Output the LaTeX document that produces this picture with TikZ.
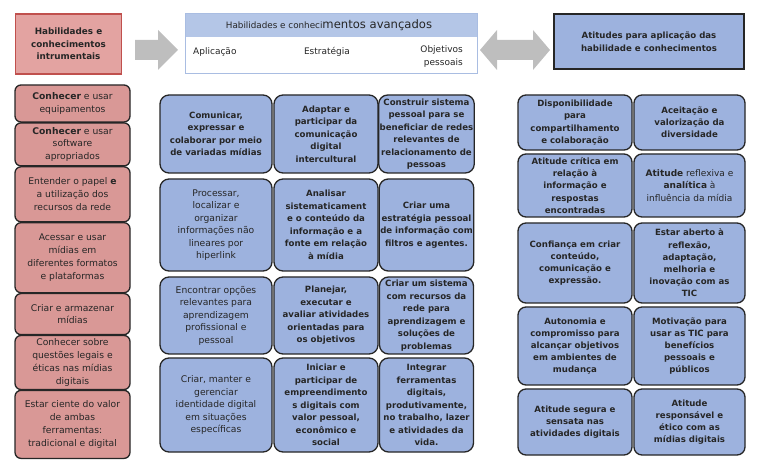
\documentclass[tikz,border=0pt]{standalone}
\usepackage{fontspec}
\setmainfont{DejaVu Sans}
\usetikzlibrary{positioning}

\definecolor{cellblue}{HTML}{9DB2DE}
\definecolor{cellred}{HTML}{D99896}
\definecolor{topredfill}{HTML}{E3A3A1}
\definecolor{framered}{HTML}{C0504D}
\definecolor{headblue}{HTML}{B4C6E7}
\definecolor{headline}{HTML}{A9BDE2}
\definecolor{arrowgray}{HTML}{BEBEBE}

\tikzset{
  wh/.style 2 args={minimum width=#1pt, minimum height=#2pt},
  cell/.style={draw=black!85, line width=1.3pt, align=center, inner sep=1pt, text=black!85},
  redcell/.style={cell, fill=cellred, rounded corners=6pt, font=\fontsize{9.2}{12.8}\selectfont},
  midcell/.style={cell, fill=cellblue, rounded corners=9pt, font=\fontsize{9.2}{12.5}\selectfont},
  midbold/.style={midcell, font=\fontsize{8.6}{12.5}\selectfont\bfseries},
  attcell/.style={cell, fill=cellblue, rounded corners=8pt, font=\fontsize{8.6}{12.2}\selectfont\bfseries},
  plain/.style={inner sep=0pt, align=center, text=black!85, font=\fontsize{9}{13}\selectfont},
}

\begin{document}
\begin{tikzpicture}[x=1pt,y=-1pt]
\useasboundingbox (0,0) rectangle (772,465);

% top row
\node[draw=framered, fill=topredfill, line width=1.4pt, align=center, inner sep=1pt,
  font=\fontsize{8.8}{12.5}\selectfont\bfseries, text=black!85] (base) at (68.5,44) [wh={106}{60}]
  {Habilidades e\\conhecimentos\\intrumentais};
\fill[arrowgray] (135,40) -- (158,40) -- (158,30) -- (178,50) -- (158,70) -- (158,60) -- (135,60) -- cycle;

\fill[headblue] (185,14) rectangle (477,37);
\node[draw=headline, line width=1pt] (adv) at (331,44) [wh={292}{60}] {};
\node[plain] (advtitle) at (329,25.5) {{\fontsize{8.8}{10}\selectfont Habilidades e conheci}{\fontsize{11.6}{12}\selectfont mentos avançados}};
\node[plain, anchor=west] (apl) at (193,52) {Aplicação};
\node[plain] (est) at (327,52) {Estratégia};
\node[plain, anchor=east, align=right] (obj) at (463,57) {Objetivos\\pessoais};

\fill[arrowgray] (480,50) -- (497,30) -- (497,40) -- (533,40) -- (533,30) -- (550,50) -- (533,70) -- (533,60) -- (497,60) -- (497,70) -- cycle;
\node[draw=black!85, fill=cellblue, line width=1.4pt, align=center, inner sep=1pt,
  font=\fontsize{8.6}{12.5}\selectfont\bfseries, text=black!85] (att) at (649,41.5) [wh={190}{55}]
  {Atitudes para aplicação das\\habilidade e conhecimentos};

% instrumental column
\node[redcell] (l_1) at (72.5,103.5) [wh={115}{37}] {\textbf{Conhecer} e usar\\equipamentos};
\node[redcell] (l_2) [below=-0.4pt of l_1, wh={115}{43}] {\textbf{Conhecer} e usar\\software\\apropriados};
\node[redcell] (l_3) [below=-0.4pt of l_2, wh={115}{55}] {Entender o papel \textbf{e}\\a utilização dos\\recursos da rede};
\node[redcell] (l_4) [below=-0.4pt of l_3, wh={115}{70}] {Acessar e usar\\mídias em\\diferentes formatos\\e plataformas};
\node[redcell] (l_5) [below=-0.4pt of l_4, wh={115}{41}] {Criar e armazenar\\mídias};
\node[redcell] (l_6) [below=-0.4pt of l_5, wh={115}{54}] {Conhecer sobre\\questões legais e\\éticas nas mídias\\digitais};
\node[redcell] (l_7) [below=-0.4pt of l_6, wh={115}{68}] {Estar ciente do valor\\de ambas\\ferramentas:\\tradicional e digital};

% advanced skills grid
\node[midbold] (m_11) at (216,134) [wh={112}{78}] {Comunicar,\\expressar e\\colaborar por meio\\de variadas mídias};
\node[midbold] (m_12) at (326,134) [wh={104}{78}] {Adaptar e\\participar da\\comunicação\\digital\\intercultural};
\node[midbold] (m_13) at (426.5,134) [wh={94}{78}] {Construir sistema\\pessoal para se\\beneficiar de redes\\relevantes de\\relacionamento de\\pessoas};

\node[midcell] (m_21) at (216,225) [wh={112}{92}] {Processar,\\localizar e\\organizar\\informações não\\lineares por\\hiperlink};
\node[midbold] (m_22) at (326,225) [wh={104}{92}] {Analisar\\sistematicament\\e o conteúdo da\\informação e a\\fonte em relação\\à mídia};
\node[midbold] (m_23) at (426.5,225) [wh={94}{92}] {Criar uma\\estratégia pessoal\\de informação com\\filtros e agentes.};

\node[midcell] (m_31) at (216,315.5) [wh={112}{77}] {Encontrar opções\\relevantes para\\aprendizagem\\profissional e\\pessoal};
\node[midbold] (m_32) at (326,315.5) [wh={104}{77}] {Planejar,\\executar e\\avaliar atividades\\orientadas para\\os objetivos};
\node[midbold] (m_33) at (426.5,315.5) [wh={94}{77}] {Criar um sistema\\com recursos da\\rede para\\aprendizagem e\\soluções de\\problemas};

\node[midcell] (m_41) at (216,405) [wh={112}{94}] {Criar, manter e\\gerenciar\\identidade digital\\em situações\\específicas};
\node[midbold] (m_42) at (326,405) [wh={104}{94}] {Iniciar e\\participar de\\empreendimento\\s digitais com\\valor pessoal,\\econômico e\\social};
\node[midbold] (m_43) at (426.5,405) [wh={94}{94}] {Integrar\\ferramentas\\digitais,\\produtivamente,\\no trabalho, lazer\\e atividades da\\vida.};

% attitudes grid
\node[attcell] (r_11) at (575,122.5) [wh={114}{55}] {Disponibilidade\\para\\compartilhamento\\e colaboração};
\node[attcell] (r_12) at (689.5,122.5) [wh={111}{55}] {Aceitação e\\valorização da\\diversidade};
\node[attcell] (r_21) at (575,185.5) [wh={114}{63}] {Atitude crítica em\\relação à\\informação e\\respostas\\encontradas};
\node[attcell, font=\fontsize{9}{12.2}\selectfont] (r_22) at (689.5,185.5) [wh={111}{63}] {\textbf{Atitude} reflexiva e\\\textbf{analítica} à\\influência da mídia};
\node[attcell] (r_31) at (575,263) [wh={114}{80}] {Confiança em criar\\conteúdo,\\comunicação e\\expressão.};
\node[attcell] (r_32) at (689.5,263) [wh={111}{80}] {Estar aberto à\\reflexão,\\adaptação,\\melhoria e\\inovação com as\\TIC};
\node[attcell] (r_41) at (575,346) [wh={114}{78}] {Autonomia e\\compromisso para\\alcançar objetivos\\em ambientes de\\mudança};
\node[attcell] (r_42) at (689.5,346) [wh={111}{78}] {Motivação para\\usar as TIC para\\benefícios\\pessoais e\\públicos};
\node[attcell] (r_51) at (575,422) [wh={114}{66}] {Atitude segura e\\sensata nas\\atividades digitais};
\node[attcell] (r_52) at (689.5,422) [wh={111}{66}] {Atitude\\responsável e\\ético com as\\mídias digitais};
\end{tikzpicture}
\end{document}
